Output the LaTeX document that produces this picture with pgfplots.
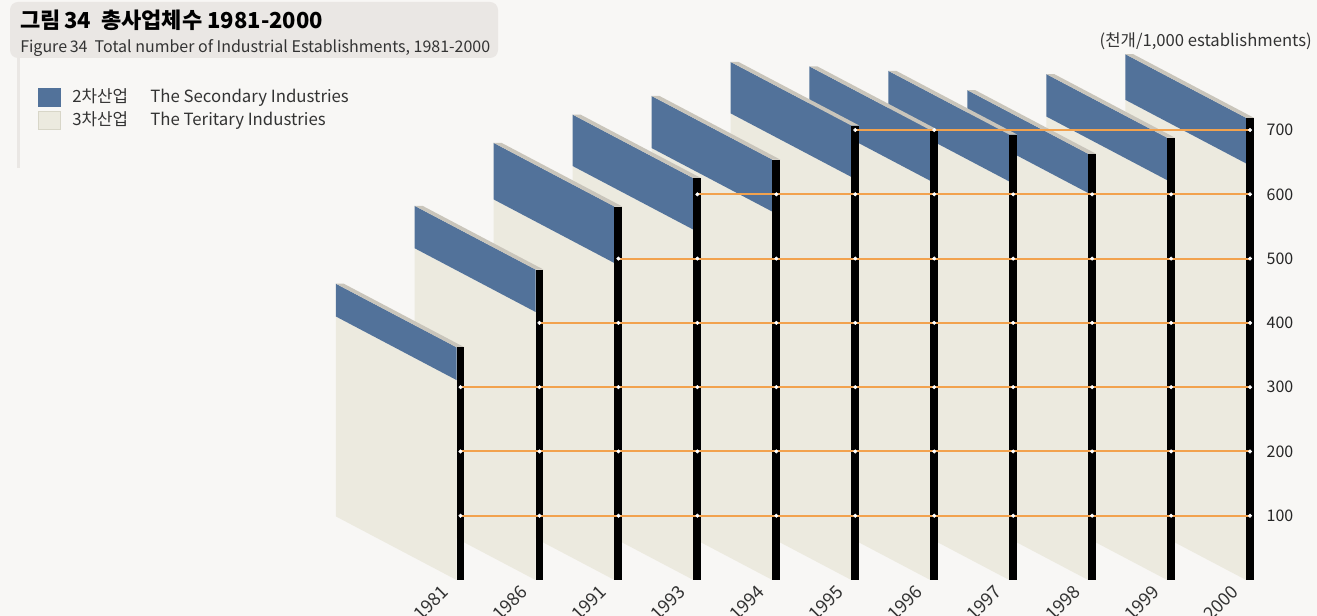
\documentclass[border=0pt]{standalone}
\usepackage{fontspec}
\setmainfont{Noto Sans CJK KR}
\usepackage{pgfplots}
\usepackage{pgfplotstable}
\pgfplotsset{compat=1.18}

\definecolor{bgc}{HTML}{F8F7F5}
\definecolor{boxc}{HTML}{EAE7E4}
\definecolor{secc}{HTML}{52729A}
\definecolor{terc}{HTML}{ECEADF}
\definecolor{terb}{HTML}{D8D6C8}
\definecolor{topc}{HTML}{C9C5BB}
\definecolor{gridc}{HTML}{F2A24E}
\definecolor{txt}{HTML}{333333}

% thousand establishments
\pgfplotstableread{
idx year sec ter
0  1981 51 311
1  1986 66 417
2  1991 88 493
3  1993 80 545
4  1994 81 573
5  1995 80 627
6  1996 79 621
7  1997 73 620
8  1998 61 602
9  1999 66 622
10 2000 71 648
}\data

\begin{document}
\begin{tikzpicture}[x=0.75pt, y=0.75pt]
  \fill[bgc] (0,0) rectangle (1317,616);
  \useasboundingbox (0,0) rectangle (1317,616);

  % title box
  \fill[boxc, rounded corners=6pt] (10,558) rectangle (498,614);
  \fill[boxc] (16.5,448) rectangle (20,558);
  \node[anchor=base west, inner sep=0pt, font=\fontsize{16.5}{18}\selectfont\bfseries] at (20,587)
    {그림\,34~~총사업체수 1981-2000};
  \node[anchor=base west, inner sep=0pt, text=txt, font=\fontsize{12}{14}\selectfont] at (20,563.5)
    {Figure\,34~~Total number of Industrial Establishments, 1981-2000};

  % legend
  \fill[secc] (38,509) rectangle (61,528);
  \filldraw[fill=terc, draw=terb, line width=1pt] (38.5,486.5) rectangle (60.5,504.5);
  \begin{scope}[every node/.style={anchor=base west, inner sep=0pt, text=txt, font=\fontsize{12.6}{14}\selectfont}]
    \node at (72,513) {2차산업};
    \node at (150,513) {The Secondary Industries};
    \node at (72,490) {3차산업};
    \node at (150,490) {The Teritary Industries};
  \end{scope}
  \node[anchor=base east, inner sep=0pt, text=txt, font=\fontsize{12.5}{14}\selectfont] at (1312,569)
    {(천개/1,000 establishments)};

  \begin{axis}[
    at={(0pt,27pt)}, anchor=south west,
    scale only axis, width=943.5pt, height=435pt,
    xmin=-5.833, xmax=10.101, ymin=0, ymax=902.3,
    clip=false,
    axis line style={draw=none},
    tick style={draw=none},
    xtick={0,...,10},
    xticklabels from table={\data}{year},
    xticklabel style={xshift=-15pt, yshift=-3pt, rotate=45, anchor=north east,
      inner sep=0pt, font=\fontsize{13.5}{15}\selectfont, text=txt},
    ytick={100,200,...,700},
    yticklabel pos=right,
    yticklabel style={anchor=west, xshift=3pt, font=\fontsize{12}{13}\selectfont, text=black!85},
    /pgf/number format/assume math mode=true,
  ]
    % panels, back to front
    \pgfplotsforeachungrouped \i in {10,9,...,0}{
      \pgfplotstablegetelem{\i}{sec}\of\data \let\vs\pgfplotsretval
      \pgfplotstablegetelem{\i}{ter}\of\data \let\vt\pgfplotsretval
      \pgfmathsetmacro\tot{\vs+\vt}
      \pgfmathsetmacro\xa{\i-0.05}
      \pgfmathsetmacro\xc{\i+0.05}
      \pgfmathsetmacro\xb{\i-1.58}
      \pgfmathsetmacro\xd{\i+0.05-1.53}
      \pgfmathsetmacro\tb{\vt+99}
      \pgfmathsetmacro\Tb{\tot+99}
      \edef\cmd{%
        \noexpand\addplot[fill=terc, draw=none] coordinates {(\xa,0) (\xa,\vt) (\xb,\tb) (\xb,99)};
        \noexpand\addplot[fill=secc, draw=none] coordinates {(\xa,\vt) (\xa,\tot) (\xb,\Tb) (\xb,\tb)};
        \noexpand\addplot[fill=topc, draw=none] coordinates {(\xa,\tot) (\xc,\tot) (\xd,\Tb) (\xb,\Tb)};
        \noexpand\addplot[fill=black, draw=none] coordinates {(\xa,0) (\xa,\tot) (\xc,\tot) (\xc,0)};
      }
      \cmd
    }
    % level lines with dots where they cross the bars
    \pgfplotsforeachungrouped \L in {100,200,...,700}{
      \def\start{11}
      \def\pts{}
      \pgfplotsforeachungrouped \j in {0,...,10}{
        \pgfplotstablegetelem{\j}{sec}\of\data \let\vs\pgfplotsretval
        \pgfplotstablegetelem{\j}{ter}\of\data \let\vt\pgfplotsretval
        \pgfmathtruncatemacro\ok{(\vs+\vt<\L) ? 0 : 1}
        \ifnum\ok=1
          \ifnum\start=11 \edef\start{\j}\fi
          \edef\pts{\pts (\j,\L)}
        \fi
      }
      \edef\cmd{%
        \noexpand\addplot[gridc, line width=1.5pt] coordinates {(\start,\L) (10,\L)};
        \noexpand\addplot[only marks, mark=*, mark size=1.3pt, white] coordinates {\pts};
      }
      \cmd
    }
  \end{axis}
\end{tikzpicture}
\end{document}
